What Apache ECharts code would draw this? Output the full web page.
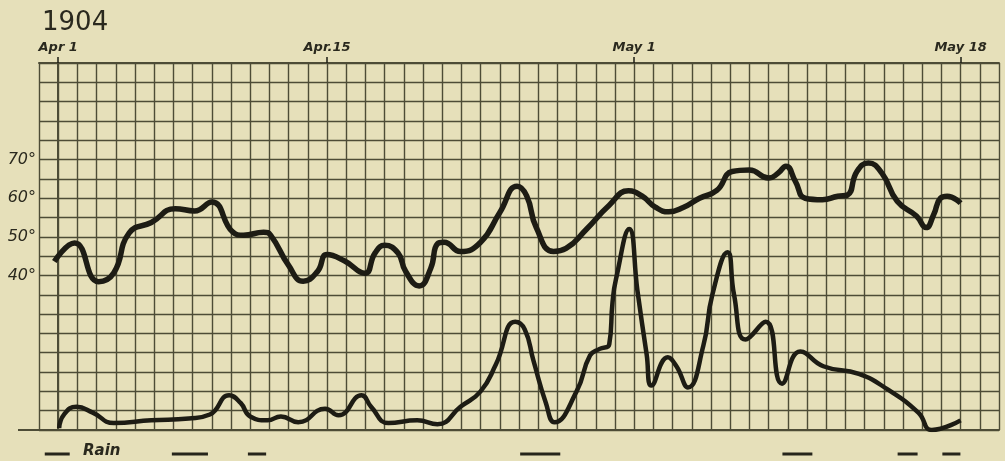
<!DOCTYPE html>
<html>
<head>
<meta charset="utf-8">
<script src="https://cdn.jsdelivr.net/npm/echarts@6/dist/echarts.min.js"></script>
<style>
  html, body { margin: 0; padding: 0; background: #e6e0ba; }
  #chart { width: 1005px; height: 461px; }
</style>
</head>
<body>
<div id="chart"></div>
<script>
// days counted from Apr 1 (= 0)
var upperDay = [-0.2, 0.85, 2.1, 2.9, 3.7, 4.85, 6.1, 7.1, 8.0, 9.1, 9.65, 10.7, 11.07, 12.0, 12.76, 13.5, 14.0, 14.9, 15.97, 16.5, 17.0, 17.7, 18.1, 18.8, 19.4, 19.75, 20.1, 20.95, 22.0, 23.0, 23.9, 24.4, 24.9, 25.8, 26.45, 27.5, 28.7, 29.7, 30.4, 31.1, 31.8, 32.55, 33.4, 34.3, 35.1, 36.0, 37.0, 37.5, 37.9, 38.4, 38.9, 39.8, 40.6, 41.1, 41.6, 42.2, 42.9, 43.7, 44.7, 45.2, 45.6, 45.95, 46.3, 47.0];
var upperVal = [43.6, 48.4, 38.4, 40.7, 51, 53.7, 57.3, 56.7, 59, 51.2, 50.4, 51.2, 50.4, 42.6, 38.5, 41, 45.4, 43.8, 40.6, 45.8, 47.8, 45.8, 41, 37.3, 41.8, 48.2, 48.6, 46.2, 48.6, 56.3, 63.1, 60.6, 52.4, 46.2, 47, 51.9, 58.2, 61.9, 60.6, 57.7, 56.5, 57.6, 60, 62, 66.9, 67.3, 65.2, 66.5, 68.3, 64.3, 60, 59.6, 60.5, 60.8, 66.9, 69.1, 66.5, 59.2, 55.4, 52.4, 55.8, 60, 60.5, 58.7];

var lowerDay = [0.05, 0.3, 0.95, 1.8, 2.9, 4.85, 6.8, 7.9, 8.9, 9.5, 10.0, 10.9, 11.6, 12.5, 13.9, 14.6, 15.8, 16.3, 17.2, 18.7, 19.75, 20.95, 22.0, 22.8, 23.8, 24.3, 24.75, 25.4, 25.85, 27.0, 27.7, 28.2, 28.7, 28.87, 29.05, 29.74, 30.17, 30.65, 30.9, 31.75, 32.2, 32.8, 33.6, 34.07, 34.86, 35.2, 35.8, 36.85, 37.7, 38.65, 39.85, 41.7, 43.2, 44.8, 45.5, 47.0];
var lowerVal = [0.5, 4, 6, 4.5, 1.8, 2.5, 3, 4, 9, 7, 3.5, 2.5, 3.5, 2, 5.5, 3.8, 9, 6, 1.8, 2.5, 1.5, 6, 10, 17, 28, 26, 18, 7, 2, 10, 19.3, 21, 22.2, 33, 39, 52, 36, 19.5, 11.5, 18.8, 16.5, 11, 21.8, 35, 46, 35, 23.4, 28, 12, 20.3, 16.5, 14.5, 10.5, 4.5, 0, 2.5];

// rain days, drawn as dashes under the sheet
var rainStart = [-0.7, 5.92, 9.88, 24.06, 37.72, 43.72, 46.05];
var rainEnd = [0.6, 7.8, 10.83, 26.15, 39.28, 44.76, 46.99];

var dateDays = [0, 14, 30, 47];
var dateLabels = ['Apr 1', 'Apr.15', 'May 1', 'May 18'];
var degreeTicks = [40, 50, 60, 70];

var ink = '#1d1c14';
var gridInk = '#4d4c36';
var hand = "'DejaVu Sans', sans-serif";

function pairs(xs, ys) {
  return xs.map(function (x, i) { return [x, ys[i]]; });
}

// top axis categories: one per day column from -1 to 49
var topCats = [];
for (var d = -1; d <= 49; d++) {
  var k = dateDays.indexOf(d);
  topCats.push(k >= 0 ? dateLabels[k] : '');
}

var chart = echarts.init(document.getElementById('chart'));

var option = {
  backgroundColor: '#e6e0ba',
  animation: false,
  title: {
    text: '1904',
    left: 37,
    top: 5,
    textStyle: { fontFamily: hand, fontSize: 26, fontWeight: 'normal', color: '#2a291e' }
  },
  grid: { left: 39, right: 6, top: 63, bottom: 31 },
  xAxis: [
    {
      type: 'value',
      min: -1,
      max: 49,
      interval: 1,
      axisLine: { show: true, lineStyle: { color: gridInk, width: 2 } },
      axisTick: { show: false },
      axisLabel: { show: false },
      splitLine: { show: true, lineStyle: { color: gridInk, width: 1.4 } }
    },
    {
      type: 'category',
      position: 'top',
      boundaryGap: false,
      data: topCats,
      axisLine: { show: true, lineStyle: { color: gridInk, width: 2 } },
      axisTick: {
        show: true,
        length: 6,
        interval: function (i, v) { return v !== ''; },
        lineStyle: { color: ink, width: 1.5 }
      },
      axisLabel: {
        interval: 0,
        margin: 9,
        fontFamily: hand,
        fontStyle: 'italic',
        fontWeight: 'bold',
        fontSize: 13,
        color: '#2a291e'
      },
      splitLine: { show: false }
    }
  ],
  yAxis: {
    type: 'value',
    min: 0,
    max: 95,
    interval: 5,
    axisLine: { show: true, lineStyle: { color: gridInk, width: 2 } },
    axisTick: { show: false },
    axisLabel: {
      margin: 3,
      fontFamily: hand,
      fontStyle: 'italic',
      fontSize: 16,
      color: '#2a291e',
      formatter: function (v) { return degreeTicks.indexOf(v) >= 0 ? v + '°' : ''; }
    },
    splitLine: { show: true, lineStyle: { color: gridInk, width: 1.4 } }
  },
  graphic: [
    { type: 'line', shape: { x1: 18, y1: 430, x2: 40, y2: 430 }, style: { stroke: gridInk, lineWidth: 2 } },
    {
      type: 'text', left: 83, top: 444,
      style: { text: 'Rain', font: "italic bold 15px 'DejaVu Sans'", fill: '#2a291e' }
    }
  ],
  series: [
    {
      name: 'upper',
      type: 'line',
      data: pairs(upperDay, upperVal),
      smooth: 0.5,
      showSymbol: false,
      lineStyle: { color: ink, width: 5.5 }
    },
    {
      name: 'lower',
      type: 'line',
      data: pairs(lowerDay, lowerVal),
      smooth: 0.5,
      showSymbol: false,
      lineStyle: { color: ink, width: 4.5 }
    },
    {
      name: 'rain',
      type: 'custom',
      data: rainStart.map(function (s, i) { return [s, rainEnd[i], 0]; }),
      encode: { x: [0, 1], y: 2 },
      renderItem: function (params, api) {
        var a = api.coord([api.value(0), api.value(2)]);
        var b = api.coord([api.value(1), api.value(2)]);
        return {
          type: 'line',
          shape: { x1: a[0], y1: a[1] + 24, x2: b[0], y2: b[1] + 24 },
          style: { stroke: '#26251b', lineWidth: 3 }
        };
      }
    }
  ]
};

chart.setOption(option);
</script>
</body>
</html>
